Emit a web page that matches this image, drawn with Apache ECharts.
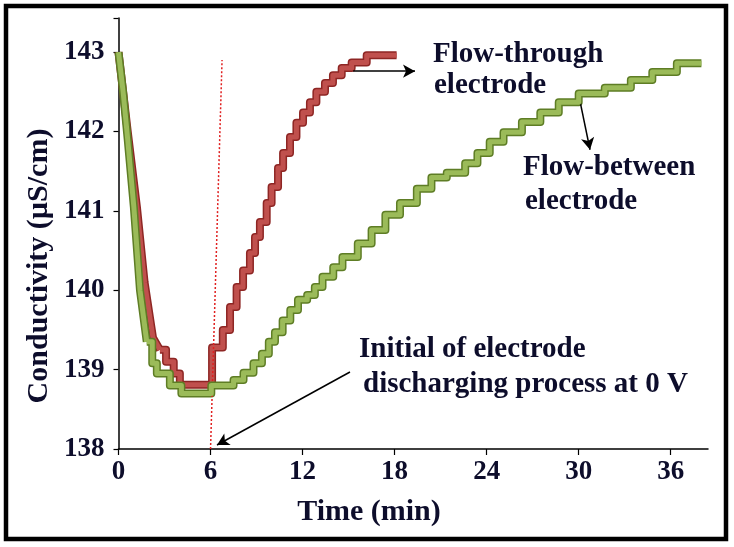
<!DOCTYPE html>
<html>
<head>
<meta charset="utf-8">
<script src="https://cdn.jsdelivr.net/npm/echarts@6/dist/echarts.min.js"></script>
<style>
html,body{margin:0;padding:0;background:#fff;}
#chart{width:734px;height:547px;}
</style>
</head>
<body>
<div id="chart"></div>
<script>
// ---- data ----
// Flow-through electrode: charging drop (smooth) and stepped part
const flowThroughDropTime = [0,0.3,0.6,1.2,1.7,2.25,2.7];
const flowThroughDropValue = [143,142.5,142.0,141.05,140.1,139.4,139.25];
const flowThroughStepTime = [2.7,3.1,3.6,4.0,6.1,6.8,7.27,7.7,8.12,8.57,8.9,9.22,9.66,9.98,10.4,10.73,11.18,11.6,12.03,12.48,12.9,13.46,13.98,14.55,15.2,16.18,18.13];
const flowThroughStepValue = [139.25,139.1,138.95,138.81,139.28,139.5,139.79,140.04,140.25,140.47,140.67,140.86,141.1,141.3,141.54,141.73,141.93,142.11,142.24,142.37,142.5,142.61,142.71,142.8,142.87,142.96,142.96];

// Flow-between electrode
const flowBetweenDropTime = [0,0.3,0.6,1.0,1.4,1.84];
const flowBetweenDropValue = [143,142.5,141.9,141.05,140.0,139.35];
const flowBetweenStepTime = [1.84,2.2,2.5,3.35,4.1,6.05,7.5,8.15,8.8,9.35,9.8,10.2,10.7,11.2,11.7,12.3,12.8,13.3,14.0,14.6,15.6,16.5,17.4,18.35,19.45,20.4,21.4,22.6,23.4,24.2,25.1,26.3,27.5,28.7,30.0,31.7,33.4,34.8,36.4,38.0];
const flowBetweenStepValue = [139.35,139.08,138.95,138.8,138.7,138.8,138.87,138.96,139.08,139.2,139.35,139.47,139.62,139.75,139.88,139.94,140.04,140.17,140.29,140.42,140.59,140.76,140.95,141.1,141.28,141.42,141.48,141.6,141.73,141.87,141.99,142.12,142.24,142.37,142.48,142.55,142.65,142.75,142.86,142.86];

const xTicks = [0,6,12,18,24,30,36];
const yTicks = [138,139,140,141,142,143];

// annotation geometry in data units
const dischargeLine = [[6.0,138.0],[6.75,142.9]];
const arrowThrough = [[15.3,142.76],[19.33,142.76]];
const arrowBetween = [[29.96,142.5],[30.74,141.77]];
const arrowDischarge = [[15.09,138.97],[6.42,138.05]];

const zip = (a,b) => a.map((v,i)=>[v,b[i]]);
const FONT = '"Liberation Serif","Times New Roman",serif';
const TXT = '#0d0d2b';

const chart = echarts.init(document.getElementById('chart'), null, {renderer:'canvas'});

function ribbon(name, data, step, fill, edge, z){
  return [
    {name:name+'-edge', type:'line', data:data, step:step, symbol:'none', silent:true,
     lineStyle:{color:edge, width:8, join:'round'}, z:z},
    {name:name, type:'line', data:data, step:step, symbol:'none', silent:true,
     lineStyle:{color:fill, width:5, join:'round'}, z:z+1}
  ];
}
function arrow(seg){
  return [{coord:seg[0], symbol:'none'},{coord:seg[1], symbol:'arrow'}];
}

const option = {
  backgroundColor:'#fff',
  animation:false,
  grid:{left:118.5, right:26, top:18, bottom:98},
  xAxis:{
    type:'value', min:0, max:38.43, interval:6,
    axisLine:{lineStyle:{color:'#000', width:1.5}},
    axisTick:{show:true, length:6, lineStyle:{color:'#000', width:1.2}},
    splitLine:{show:false},
    axisLabel:{color:TXT, fontFamily:FONT, fontWeight:'bold', fontSize:27, margin:10,
      showMaxLabel:false,
      formatter:v => xTicks.includes(v) ? String(v) : ''}
  },
  yAxis:{
    type:'value', min:138, max:143.43, interval:1,
    axisLine:{show:true, lineStyle:{color:'#000', width:1.5}},
    axisTick:{show:true, length:5, lineStyle:{color:'#000', width:1.2}},
    splitLine:{show:false},
    axisLabel:{color:TXT, fontFamily:FONT, fontWeight:'bold', fontSize:27, margin:14,
      formatter:v => yTicks.includes(v) ? String(v) : ''}
  },
  series:[
    ...ribbon('Flow-through drop', zip(flowThroughDropTime, flowThroughDropValue), false, '#c0504d', '#8e2624', 2),
    ...ribbon('Flow-through electrode', zip(flowThroughStepTime, flowThroughStepValue), 'end', '#c0504d', '#8e2624', 2),
    ...ribbon('Flow-between drop', zip(flowBetweenDropTime, flowBetweenDropValue), false, '#9bbb59', '#5e7d25', 4),
    ...ribbon('Flow-between electrode', zip(flowBetweenStepTime, flowBetweenStepValue), 'end', '#9bbb59', '#5e7d25', 4),
    {type:'line', data:[], silent:true, z:8,
     markLine:{silent:true, animation:false, symbol:['none','none'],
       label:{show:false},
       lineStyle:{color:'#e02020', width:1.5, type:[2,2]},
       data:[[{coord:dischargeLine[0]},{coord:dischargeLine[1]}]]}},
    {type:'line', data:[], silent:true, z:9,
     markLine:{silent:true, animation:false, symbolSize:[10,12],
       label:{show:false},
       lineStyle:{color:'#000', width:1.5, type:'solid'},
       data:[arrow(arrowThrough), arrow(arrowBetween), arrow(arrowDischarge)]}}
  ],
  graphic:[
    {type:'rect', shape:{x:6,y:6,width:720,height:533}, style:{fill:'none', stroke:'#000', lineWidth:4.5}, silent:true},
    {type:'text', x:39, y:266, rotation:Math.PI/2, style:{text:'Conductivity (µS/cm)', font:'bold 30px '+FONT, fill:TXT, textAlign:'center', textVerticalAlign:'middle'}},
    {type:'text', x:369, y:512, style:{text:'Time (min)', font:'bold 30px '+FONT, fill:TXT, textAlign:'center', textVerticalAlign:'middle'}},
    {type:'text', x:433, y:55, style:{text:'Flow-through', font:'bold 29px '+FONT, fill:TXT, textAlign:'left', textVerticalAlign:'middle'}},
    {type:'text', x:434, y:86, style:{text:'electrode', font:'bold 29px '+FONT, fill:TXT, textAlign:'left', textVerticalAlign:'middle'}},
    {type:'text', x:523, y:168, style:{text:'Flow-between', font:'bold 29px '+FONT, fill:TXT, textAlign:'left', textVerticalAlign:'middle'}},
    {type:'text', x:525, y:202, style:{text:'electrode', font:'bold 29px '+FONT, fill:TXT, textAlign:'left', textVerticalAlign:'middle'}},
    {type:'text', x:359, y:350, style:{text:'Initial of electrode', font:'bold 29px '+FONT, fill:TXT, textAlign:'left', textVerticalAlign:'middle'}},
    {type:'text', x:363, y:385, style:{text:'discharging process at 0 V', font:'bold 29px '+FONT, fill:TXT, textAlign:'left', textVerticalAlign:'middle'}}
  ]
};
chart.setOption(option);
</script>
</body>
</html>
